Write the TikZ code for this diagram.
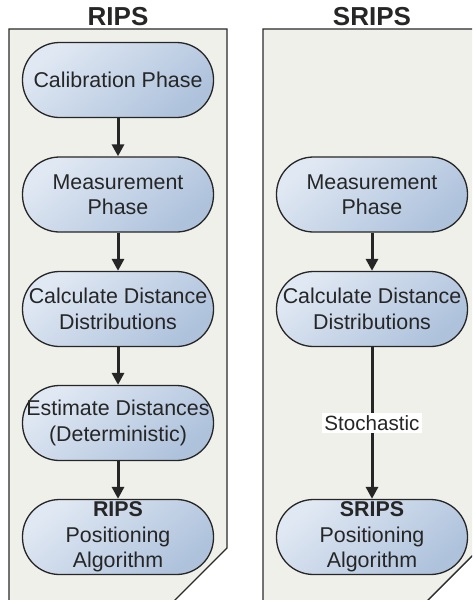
\documentclass[tikz,border=0pt]{standalone}
\usepackage{fontspec}
\setmainfont{Liberation Sans}
\usetikzlibrary{arrows.meta}
\definecolor{panelfill}{HTML}{F0F0EA}
\definecolor{panelline}{HTML}{2A2A2A}
\definecolor{nodetop}{HTML}{E0E8F3}
\definecolor{nodebot}{HTML}{AEC2DC}
\tikzset{
  stage/.style={draw=black!85, line width=1.3pt, rectangle, rounded corners=37pt,
    minimum width=191pt, minimum height=75pt, inner sep=0pt, align=center,
    top color=nodetop, bottom color=nodebot, shading angle=40,
    font=\fontsize{21.4}{25.5}\selectfont, text=black!85},
  panel/.style={fill=panelfill, draw=panelline, line width=1.4pt},
  title/.style={font=\fontsize{26}{30}\selectfont\bfseries, text=black!85, anchor=base},
  flow/.style={line width=3pt, black!85, -{Triangle[width=12pt,length=12pt]}},
  edgelabel/.style={fill=white, inner sep=2pt, font=\fontsize{20.6}{24}\selectfont, text=black!85}
}
\begin{document}
\begin{tikzpicture}[x=1pt,y=-1pt]
\useasboundingbox (0,0) rectangle (472,600);
\clip (0,0) rectangle (472,600);
% panels with a cut lower-right corner
\draw[panel] (9,29) -- (227,29) -- (227,548) -- (147,628) -- (9,628) -- cycle;
\draw[panel] (263,29) -- (481,29) -- (481,547) -- (401,627) -- (263,627) -- cycle;
\node[title] (t1) at (118,25) {RIPS};
\node[title] (t2) at (372,25) {SRIPS};
% left column
\node[stage] (cal)  at (118,80)  {Calibration Phase};
\node[stage] (meas) at (118,194.5) {Measurement\\Phase};
\node[stage] (calc) at (118,309) {Calculate Distance\\Distributions};
\node[stage] (est)  at (118,423) {Estimate Distances\\(Deterministic)};
\node[stage] (pos)  at (118,537) {\textbf{RIPS}\\Positioning\\Algorithm};
% right column
\node[stage] (smeas) at (372,194.5) {Measurement\\Phase};
\node[stage] (scalc) at (372,309) {Calculate Distance\\Distributions};
\node[stage] (spos)  at (372,537) {\textbf{SRIPS}\\Positioning\\Algorithm};
% connectors
\draw[flow] (cal) -- (meas);
\draw[flow] (meas) -- (calc);
\draw[flow] (calc) -- (est);
\draw[flow] (est) -- (pos);
\draw[flow] (smeas) -- (scalc);
\draw[flow] (scalc) -- node[edgelabel] {Stochastic} (spos);
\end{tikzpicture}
\end{document}
